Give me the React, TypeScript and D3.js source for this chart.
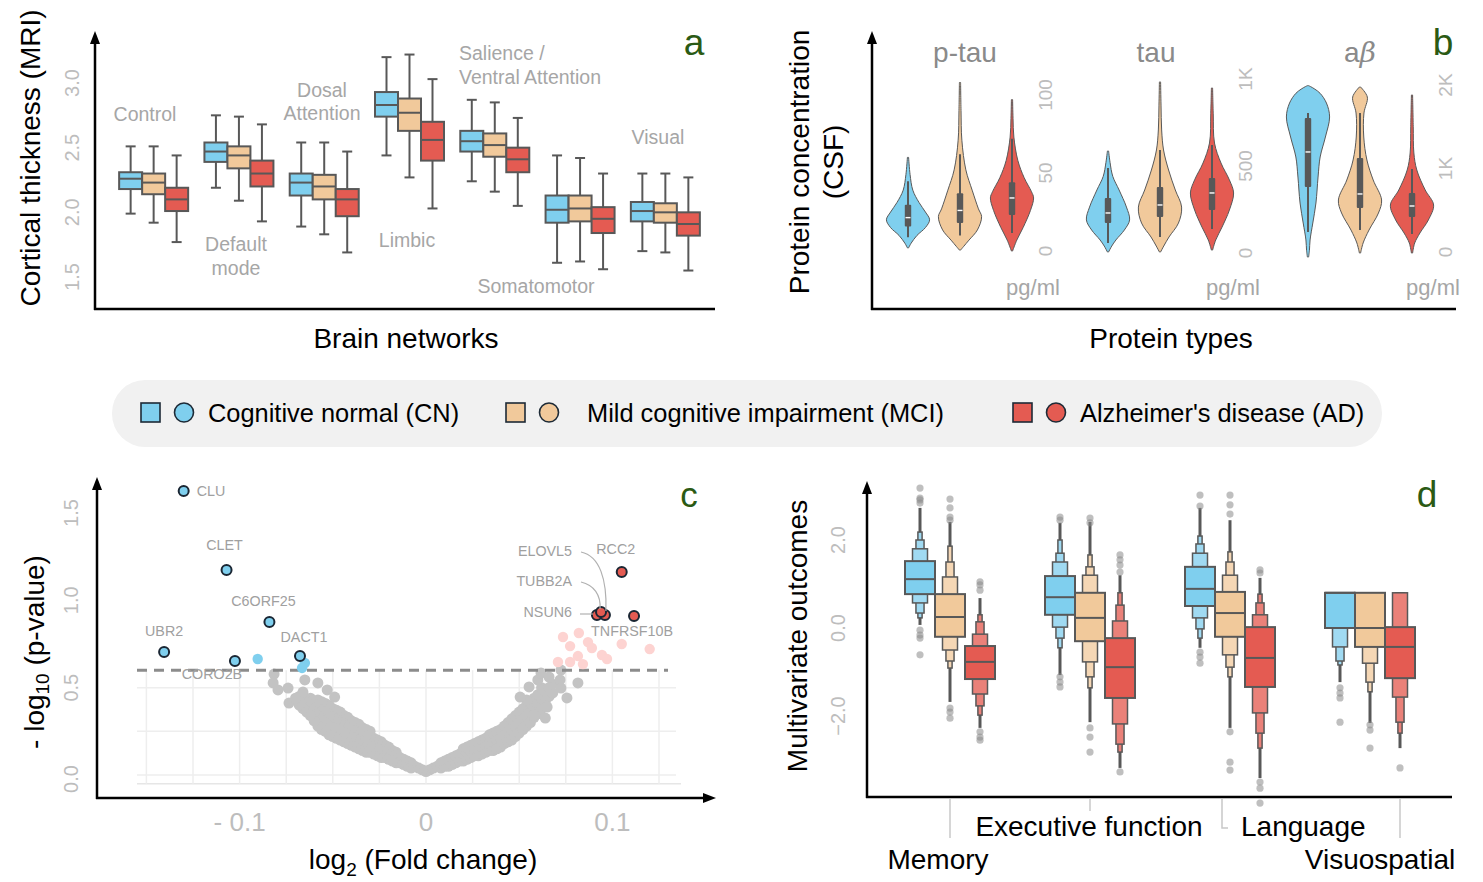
import React from "react";
import * as d3 from "d3";

const FONT = "'Liberation Sans', Arial, Helvetica, sans-serif";

// shared groups and colours
const diagnosisGroups = ["CN", "MCI", "AD"];
const legendLabels = ["Cognitive normal (CN)", "Mild cognitive impairment (MCI)", "Alzheimer's disease (AD)"];
const fillColors = ["#7fcfee", "#f1c99b", "#e45b52"];
const outerColors = ["#a0daf2", "#f5d7b5", "#ea8179"];
const EDGE = "#585858";
const TICK = "#bdbdbd";
const NOTE = "#a6a6a6";
const GREEN = "#2b5a14";

// ---- panel a : cortical thickness, [whiskerLow, q1, median, q3, whiskerHigh]
const networks = ["Control", "Default mode", "Dosal Attention", "Limbic", "Salience", "Somatomotor", "Visual"];
const thicknessCN = [
  [1.99, 2.18, 2.26, 2.31, 2.51],
  [2.19, 2.39, 2.47, 2.54, 2.75],
  [1.89, 2.13, 2.23, 2.3, 2.54],
  [2.44, 2.74, 2.83, 2.93, 3.2],
  [2.24, 2.47, 2.55, 2.63, 2.87],
  [1.61, 1.92, 2.02, 2.13, 2.44],
  [1.7, 1.93, 2.01, 2.08, 2.3],
];
const thicknessMCI = [
  [1.92, 2.14, 2.23, 2.3, 2.51],
  [2.09, 2.34, 2.44, 2.51, 2.74],
  [1.83, 2.1, 2.2, 2.29, 2.54],
  [2.27, 2.63, 2.77, 2.88, 3.22],
  [2.16, 2.43, 2.52, 2.61, 2.85],
  [1.62, 1.93, 2.03, 2.13, 2.42],
  [1.69, 1.92, 2.0, 2.07, 2.3],
];
const thicknessAD = [
  [1.77, 2.01, 2.1, 2.19, 2.44],
  [1.93, 2.2, 2.3, 2.4, 2.68],
  [1.69, 1.97, 2.1, 2.18, 2.47],
  [2.03, 2.4, 2.56, 2.7, 3.03],
  [2.05, 2.31, 2.41, 2.5, 2.73],
  [1.56, 1.84, 1.95, 2.04, 2.3],
  [1.55, 1.82, 1.91, 2.0, 2.27],
];
const thicknessTicks = [1.5, 2.0, 2.5, 3.0];

// ---- panel b : CSF proteins, violin profiles [value, relative half width]
const proteins = ["p-tau", "tau", "aβ"];
const proteinDomains = [[0, 100], [0, 1000], [0, 2000]];
const proteinTicks = [[0, 50, 100], [0, 500, 1000], [0, 1000, 2000]];
const proteinTickLabels = [["0", "50", "100"], ["0", "500", "1K"], ["0", "1K", "2K"]];
const ptauProfiles: [number, number][][] = [
  [[2, 0], [5, 0.12], [10, 0.4], [15, 0.8], [20, 1], [25, 0.8], [31, 0.5], [39, 0.2], [49, 0.07], [60, 0]],
  [[0.6, 0], [3, 0.15], [7, 0.4], [13.5, 0.8], [22, 1], [27, 0.85], [39, 0.55], [52, 0.25], [71, 0.06], [90, 0.02], [108, 0]],
  [[0, 0], [7, 0.2], [15, 0.5], [26, 0.85], [34, 1], [38, 0.9], [47, 0.55], [58, 0.25], [73, 0.06], [85, 0.02], [97, 0]],
];
const tauProfiles: [number, number][][] = [
  [[6, 0], [40, 0.15], [75, 0.35], [132, 0.75], [190, 1], [264, 0.85], [362, 0.5], [440, 0.2], [520, 0.07], [586, 0]],
  [[6, 0], [40, 0.15], [92, 0.4], [172, 0.85], [264, 1], [362, 0.7], [477, 0.38], [592, 0.14], [707, 0.05], [850, 0.02], [983, 0]],
  [[17, 0], [75, 0.15], [149, 0.45], [247, 0.8], [345, 1], [420, 0.8], [517, 0.4], [632, 0.09], [800, 0.03], [948, 0]],
];
const abetaProfiles: [number, number][][] = [
  [[-60, 0], [20, 0.04], [144, 0.07], [347, 0.2], [587, 0.35], [898, 0.45], [1138, 0.55], [1377, 0.8], [1617, 1], [1784, 0.85], [1900, 0.55], [1950, 0.3], [1980, 0.1], [1992, 0]],
  [[-12, 0], [108, 0.12], [263, 0.4], [467, 0.85], [623, 1], [862, 0.6], [1102, 0.3], [1377, 0.15], [1665, 0.16], [1856, 0.32], [1976, 0]],
  [[-12, 0], [108, 0.1], [228, 0.35], [383, 0.75], [563, 1], [743, 0.6], [982, 0.2], [1186, 0.06], [1500, 0.03], [1880, 0]],
];
// [whiskerLow, q1, median, q3, whiskerHigh]
const ptauBoxes = [[8.8, 15.7, 21.4, 29.6, 44.7], [10, 18, 26, 37, 62], [11.5, 23, 34, 44, 72]];
const tauBoxes = [[57, 172, 230, 316, 488], [92, 207, 276, 379, 592], [138, 247, 345, 431, 620]];
const abetaBoxes = [[240, 778, 1198, 1605, 1665], [263, 527, 695, 1126, 1665], [216, 419, 551, 707, 994]];

// ---- panel c : volcano plot [log2 fold change, -log10 p]
const labelledDown = [
  { gene: "CLU", fc: -0.13, p: 1.626 },
  { gene: "CLET", fc: -0.107, p: 1.173 },
  { gene: "C6ORF25", fc: -0.084, p: 0.876 },
  { gene: "UBR2", fc: -0.1405, p: 0.704 },
  { gene: "CORO2B", fc: -0.1025, p: 0.653 },
  { gene: "DACT1", fc: -0.0676, p: 0.681 },
];
const plainDown: [number, number][] = [[-0.0903, 0.664], [-0.065, 0.641], [-0.0665, 0.613]];
const labelledUp = [
  { gene: "RCC2", fc: 0.105, p: 1.162 },
  { gene: "NSUN6", fc: 0.0917, p: 0.916 },
  { gene: "ELOVL5", fc: 0.096, p: 0.916 },
  { gene: "TUBB2A", fc: 0.0939, p: 0.933 },
  { gene: "TNFRSF10B", fc: 0.1116, p: 0.91 },
];
const plainUp: [number, number][] = [
  [0.0735, 0.79], [0.082, 0.813], [0.0773, 0.738], [0.0869, 0.761], [0.089, 0.727], [0.0815, 0.681],
  [0.0944, 0.687], [0.0971, 0.664], [0.0708, 0.647], [0.0773, 0.647], [0.0842, 0.635], [0.105, 0.75], [0.12, 0.721],
];
const backgroundGenes: [number, number][] = [
  [0, 0.02], [0.002, 0.03], [-0.002, 0.03], [0.004, 0.04], [-0.004, 0.04], [0.006, 0.05], [-0.006, 0.05],
  [-0.008, 0.04], [-0.008, 0.07], [-0.01, 0.05], [-0.01, 0.08], [-0.012, 0.06], [-0.012, 0.09],
  [-0.014, 0.07], [-0.014, 0.1], [-0.016, 0.07], [-0.016, 0.11], [-0.016, 0.13], [-0.018, 0.08], [-0.018, 0.12], [-0.018, 0.14],
  [-0.02, 0.09], [-0.02, 0.13], [-0.02, 0.16], [-0.022, 0.1], [-0.022, 0.14], [-0.022, 0.17],
  [-0.024, 0.1], [-0.024, 0.14], [-0.024, 0.19], [-0.026, 0.11], [-0.026, 0.15], [-0.026, 0.2],
  [-0.028, 0.12], [-0.028, 0.16], [-0.028, 0.21], [-0.03, 0.13], [-0.03, 0.17], [-0.03, 0.22], [-0.03, 0.25],
  [-0.032, 0.13], [-0.032, 0.18], [-0.032, 0.23], [-0.032, 0.26], [-0.034, 0.14], [-0.034, 0.19], [-0.034, 0.24], [-0.034, 0.27],
  [-0.036, 0.15], [-0.036, 0.2], [-0.036, 0.25], [-0.036, 0.29], [-0.038, 0.16], [-0.038, 0.21], [-0.038, 0.26], [-0.038, 0.3],
  [-0.04, 0.17], [-0.04, 0.22], [-0.04, 0.27], [-0.04, 0.31], [-0.042, 0.18], [-0.042, 0.23], [-0.042, 0.28], [-0.042, 0.33],
  [-0.044, 0.19], [-0.044, 0.24], [-0.044, 0.29], [-0.044, 0.34], [-0.046, 0.2], [-0.046, 0.25], [-0.046, 0.31], [-0.046, 0.36],
  [-0.048, 0.21], [-0.048, 0.26], [-0.048, 0.32], [-0.048, 0.37], [-0.05, 0.22], [-0.05, 0.27], [-0.05, 0.33], [-0.05, 0.38],
  [-0.052, 0.23], [-0.052, 0.28], [-0.052, 0.34], [-0.052, 0.4], [-0.054, 0.25], [-0.054, 0.3], [-0.054, 0.36], [-0.054, 0.41],
  [-0.056, 0.26], [-0.056, 0.31], [-0.056, 0.37], [-0.056, 0.42], [-0.058, 0.28], [-0.058, 0.34], [-0.058, 0.39], [-0.058, 0.43],
  [-0.06, 0.31], [-0.06, 0.36], [-0.06, 0.41], [-0.062, 0.34], [-0.062, 0.4], [-0.062, 0.44],
  [-0.064, 0.36], [-0.064, 0.42], [-0.066, 0.38], [-0.066, 0.44], [-0.068, 0.4], [-0.068, 0.45],
  [-0.0815, 0.578], [-0.082, 0.527], [-0.0794, 0.487], [-0.074, 0.498], [-0.0735, 0.412], [-0.065, 0.544],
  [-0.066, 0.475], [-0.058, 0.527], [-0.053, 0.487], [-0.049, 0.446], [-0.07, 0.44],
  [0.008, 0.04], [0.008, 0.07], [0.01, 0.05], [0.01, 0.08], [0.012, 0.05], [0.012, 0.09], [0.014, 0.06], [0.014, 0.1],
  [0.016, 0.07], [0.016, 0.11], [0.018, 0.08], [0.018, 0.12],
  [0.02, 0.08], [0.02, 0.12], [0.02, 0.15], [0.022, 0.09], [0.022, 0.13], [0.022, 0.16],
  [0.024, 0.1], [0.024, 0.14], [0.024, 0.17], [0.026, 0.11], [0.026, 0.15], [0.026, 0.18],
  [0.028, 0.11], [0.028, 0.15], [0.028, 0.19], [0.03, 0.12], [0.03, 0.16], [0.03, 0.2],
  [0.032, 0.13], [0.032, 0.17], [0.032, 0.21], [0.034, 0.14], [0.034, 0.18], [0.034, 0.23],
  [0.036, 0.14], [0.036, 0.19], [0.036, 0.24], [0.038, 0.15], [0.038, 0.2], [0.038, 0.25],
  [0.04, 0.16], [0.04, 0.21], [0.04, 0.26], [0.042, 0.18], [0.042, 0.23], [0.042, 0.28],
  [0.044, 0.19], [0.044, 0.25], [0.044, 0.3], [0.046, 0.2], [0.046, 0.26], [0.046, 0.32],
  [0.048, 0.22], [0.048, 0.28], [0.048, 0.34], [0.05, 0.24], [0.05, 0.3], [0.05, 0.36],
  [0.052, 0.26], [0.052, 0.32], [0.052, 0.38], [0.054, 0.28], [0.054, 0.34], [0.054, 0.4],
  [0.056, 0.3], [0.056, 0.36], [0.056, 0.41], [0.058, 0.33], [0.058, 0.39], [0.058, 0.44],
  [0.06, 0.35], [0.06, 0.41], [0.06, 0.46], [0.062, 0.38], [0.062, 0.44], [0.062, 0.5],
  [0.064, 0.42], [0.064, 0.48], [0.066, 0.45], [0.066, 0.5], [0.068, 0.47], [0.068, 0.52],
  [0.0553, 0.504], [0.06, 0.544], [0.0617, 0.584], [0.066, 0.561], [0.0724, 0.601], [0.0719, 0.544],
  [0.0724, 0.498], [0.0815, 0.527], [0.0756, 0.441], [0.065, 0.389], [0.064, 0.326], [0.058, 0.343],
  [0.054, 0.429], [0.0505, 0.446],
];
const volcanoThreshold = 0.6;
const volcanoGridX = [-0.15, -0.125, -0.1, -0.075, -0.05, -0.025, 0, 0.025, 0.05, 0.075, 0.1, 0.125];
const volcanoGridY = [-0.05, 0, 0.25, 0.5];
const volcanoTicksY = [0, 0.5, 1.0, 1.5];
const volcanoTicksX = [-0.1, 0, 0.1];
const volcanoTickLabelsX = ["- 0.1", "0", "0.1"];

// ---- panel d : letter-value plots
const outcomes = ["Memory", "Executive function", "Language", "Visuospatial"];
type Boxen = { med: number; levels: [number, number][]; tails: [number, number]; outliers: number[] };
const memoryBoxen: Boxen[] = [
  { med: 1.11, levels: [[0.77, 1.52], [0.57, 1.8], [0.34, 2.0], [0.23, 2.18]], tails: [0.07, 2.73], outliers: [3.18, 2.95, 2.91, 2.84, -0.05, -0.16, -0.23, -0.61] },
  { med: 0.25, levels: [[-0.2, 0.77], [-0.5, 1.16], [-0.75, 1.5], [-0.91, 1.86]], tails: [-1.68, 2.41], outliers: [2.93, 2.73, 2.52, 2.45, -1.82, -1.91, -2.05] },
  { med: -0.77, levels: [[-1.16, -0.41], [-1.5, -0.14], [-1.77, 0.14], [-1.98, 0.3]], tails: [-2.27, 0.68], outliers: [1.05, 0.98, 0.86, -2.36, -2.48, -2.55] },
];
const executiveBoxen: Boxen[] = [
  { med: 0.7, levels: [[0.3, 1.18], [0.02, 1.5], [-0.23, 1.7], [-0.45, 2.0]], tails: [-1.07, 2.39], outliers: [2.52, 2.45, -1.11, -1.23, -1.34] },
  { med: 0.23, levels: [[-0.3, 0.8], [-0.77, 1.2], [-1.11, 1.39], [-1.36, 1.66]], tails: [-2.14, 2.41], outliers: [2.5, 2.39, -2.27, -2.48, -2.82] },
  { med: -0.89, levels: [[-1.59, -0.23], [-2.18, 0.16], [-2.64, 0.52], [-2.82, 0.8]], tails: [-3.18, 1.2], outliers: [1.66, 1.55, 1.43, 1.27, -3.27] },
];
const languageBoxen: Boxen[] = [
  { med: 0.89, levels: [[0.5, 1.39], [0.23, 1.7], [-0.02, 1.91], [-0.23, 2.09]], tails: [-0.45, 2.73], outliers: [3.02, 2.77, -0.55, -0.66, -0.8] },
  { med: 0.34, levels: [[-0.2, 0.82], [-0.61, 1.2], [-0.89, 1.5], [-1.11, 1.73]], tails: [-2.27, 2.45], outliers: [3.02, 2.8, 2.59, -2.36, -3.05, -3.23] },
  { med: -0.68, levels: [[-1.34, 0.02], [-1.93, 0.3], [-2.39, 0.57], [-2.73, 0.77]], tails: [-3.41, 1.14], outliers: [1.32, 1.25, -3.5, -3.64, -3.98] },
];
const visuospatialBoxen: Boxen[] = [
  { med: 0.8, levels: [[0.0, 0.8], [-0.43, 0.8], [-0.75, 0.8], [-0.84, 0.8]], tails: [-1.23, 0.8], outliers: [-1.36, -1.48, -1.59, -2.14] },
  { med: 0.0, levels: [[-0.43, 0.8], [-0.8, 0.8], [-1.23, 0.8], [-1.45, 0.8]], tails: [-2.16, 0.8], outliers: [-2.2, -2.32, -2.73] },
  { med: -0.43, levels: [[-1.14, 0.02], [-1.57, 0.8], [-2.14, 0.8], [-2.39, 0.8]], tails: [-2.73, 0.8], outliers: [-3.18] },
];
const outcomeTicks = [-2, 0, 2];
const levelWidths = [1, 0.5, 0.27, 0.14];

// ---------------------------------------------------------------
const TITLE = 28;
const arrowUp = (x: number, y: number) => `${x - 5},${y + 13} ${x},${y} ${x + 5},${y + 13}`;
const arrowRight = (x: number, y: number) => `${x - 13},${y - 5} ${x},${y} ${x - 13},${y + 5}`;

const RotTick = ({ x, y, text, size = 20 }: { x: number; y: number; text: string; size?: number }) => (
  <text transform={`translate(${x},${y}) rotate(-90)`} textAnchor="middle" dominantBaseline="middle" fill={TICK} fontSize={size}>
    {text}
  </text>
);

function PanelA() {
  const x = d3.scaleBand<string>().domain(networks).range([111, 708]);
  const y = d3.scaleLinear().domain([1.5, 3.0]).range([277, 83]);
  const bw = 23;
  const data = [thicknessCN, thicknessMCI, thicknessAD];
  return (
    <g>
      {networks.map((n, ni) =>
        diagnosisGroups.map((g, gi) => {
          const [lo, q1, med, q3, hi] = data[gi][ni];
          const cx = x(n)! + x.bandwidth() / 2 + (gi - 1) * bw;
          return (
            <g key={n + g} stroke={EDGE} strokeWidth={2}>
              <line x1={cx} x2={cx} y1={y(hi)} y2={y(q3)} />
              <line x1={cx} x2={cx} y1={y(q1)} y2={y(lo)} />
              <line x1={cx - 5} x2={cx + 5} y1={y(hi)} y2={y(hi)} />
              <line x1={cx - 5} x2={cx + 5} y1={y(lo)} y2={y(lo)} />
              <rect x={cx - bw / 2} y={y(q3)} width={bw} height={y(q1) - y(q3)} fill={fillColors[gi]} />
              <line x1={cx - bw / 2} x2={cx + bw / 2} y1={y(med)} y2={y(med)} />
            </g>
          );
        })
      )}
      {thicknessTicks.map((t) => (
        <RotTick key={t} x={74} y={y(t)} text={d3.format(".1f")(t)} />
      ))}
      <g fill={NOTE} fontSize={19.5} textAnchor="middle">
        <text x={145} y={121}>Control</text>
        <text x={236} y={251}>Default</text>
        <text x={236} y={275}>mode</text>
        <text x={322} y={97}>Dosal</text>
        <text x={322} y={120}>Attention</text>
        <text x={407} y={247}>Limbic</text>
        <text x={459} y={60} textAnchor="start">Salience /</text>
        <text x={459} y={84} textAnchor="start">Ventral Attention</text>
        <text x={536} y={293}>Somatomotor</text>
        <text x={658} y={144}>Visual</text>
      </g>
      <line x1={95} x2={95} y1={40} y2={310} stroke="#000" strokeWidth={2.5} />
      <polygon points={arrowUp(95, 31)} fill="#000" />
      <line x1={94} x2={715} y1={309} y2={309} stroke="#000" strokeWidth={2.5} />
      <text transform="translate(33,158) rotate(-90)" textAnchor="middle" dominantBaseline="middle" fontSize={TITLE}>
        Cortical thickness (MRI)
      </text>
      <text x={406} y={348} textAnchor="middle" fontSize={TITLE}>Brain networks</text>
      <text x={694} y={55} textAnchor="middle" fontSize={37} fill={GREEN}>a</text>
    </g>
  );
}

function PanelB() {
  const x = d3.scaleBand<string>().domain(proteins).range([860, 1460]);
  const ranges = [[251, 95], [253, 79], [252, 85]];
  const profiles = [ptauProfiles, tauProfiles, abetaProfiles];
  const boxes = [ptauBoxes, tauBoxes, abetaBoxes];
  const halfW = 21;
  return (
    <g>
      {proteins.map((p, pi) => {
        const y = d3.scaleLinear().domain(proteinDomains[pi]).range(ranges[pi]);
        const c = x(p)! + x.bandwidth() / 2;
        return (
          <g key={p}>
            {diagnosisGroups.map((g, gi) => {
              const cx = c + (gi - 1) * 52;
              const area = d3
                .area<[number, number]>()
                .y((d) => y(d[0]))
                .x0((d) => cx - d[1] * halfW - 0.6)
                .x1((d) => cx + d[1] * halfW + 0.6)
                .curve(d3.curveCatmullRom.alpha(0.5));
              const [lo, q1, med, q3, hi] = boxes[pi][gi];
              return (
                <g key={g}>
                  <path d={area(profiles[pi][gi]) || ""} fill={fillColors[gi]} stroke={EDGE} strokeWidth={1} />
                  <line x1={cx} x2={cx} y1={y(hi)} y2={y(lo)} stroke={EDGE} strokeWidth={2} />
                  <rect x={cx - 3.2} y={y(q3)} width={6.4} height={y(q1) - y(q3)} fill={EDGE} rx={1} />
                  <line x1={cx - 2.5} x2={cx + 2.5} y1={y(med)} y2={y(med)} stroke="#fff" strokeWidth={1.4} />
                </g>
              );
            })}
            {proteinTicks[pi].map((t, ti) => (
              <RotTick key={t} x={c + 87} y={y(t)} text={proteinTickLabels[pi][ti]} size={19} />
            ))}
            <text x={c + 73} y={295} textAnchor="middle" fontSize={22} fill={NOTE}>pg/ml</text>
            <text x={c + (pi === 2 ? 0 : pi === 1 ? -4 : 5)} y={62} textAnchor="middle" fontSize={28} fill="#8a8a8a">
              {pi === 2 ? (
                <>
                  <tspan>a</tspan>
                  <tspan fontStyle="italic" fontFamily="'DejaVu Serif', serif">β</tspan>
                </>
              ) : (
                p
              )}
            </text>
          </g>
        );
      })}
      <line x1={872} x2={872} y1={40} y2={310} stroke="#000" strokeWidth={2.5} />
      <polygon points={arrowUp(872, 31)} fill="#000" />
      <line x1={871} x2={1456} y1={309} y2={309} stroke="#000" strokeWidth={2.5} />
      <text transform="translate(802,162) rotate(-90)" textAnchor="middle" dominantBaseline="middle" fontSize={TITLE}>
        Protein concentration
      </text>
      <text transform="translate(836,162) rotate(-90)" textAnchor="middle" dominantBaseline="middle" fontSize={TITLE}>
        (CSF)
      </text>
      <text x={1171} y={348} textAnchor="middle" fontSize={TITLE}>Protein types</text>
      <text x={1443} y={55} textAnchor="middle" fontSize={37} fill={GREEN}>b</text>
    </g>
  );
}

function Legend() {
  const squareX = [141, 506, 1013];
  return (
    <g>
      <rect x={112} y={380} width={1270} height={67} rx={33} fill="#f1f1f1" />
      {legendLabels.map((l, i) => (
        <g key={l}>
          <rect x={squareX[i]} y={403} width={19} height={19} fill={fillColors[i]} stroke="#1d2a36" strokeWidth={1.6} />
          <circle cx={squareX[i] + 43} cy={412.5} r={9.5} fill={fillColors[i]} stroke="#1d2a36" strokeWidth={1.6} />
          <text x={squareX[i] + (i === 1 ? 81 : 67)} y={422} fontSize={25.4}>{l}</text>
        </g>
      ))}
    </g>
  );
}

function PanelC() {
  const x = d3.scaleLinear().domain([-0.15, 0.125]).range([146.4, 659]);
  const y = d3.scaleLinear().domain([0, 1.5]).range([775, 513]);
  const gridTop = y(volcanoThreshold);
  const up = Object.fromEntries(labelledUp.map((d) => [d.gene, [x(d.fc), y(d.p)]]));
  const outline = "#1a2633";
  return (
    <g>
      {volcanoGridY.map((v) => (
        <line key={v} x1={137} x2={v < 0 ? 681 : 676} y1={y(v)} y2={y(v)} stroke={v < 0 ? "#e6e6e6" : "#eeeeee"} strokeWidth={1.5} />
      ))}
      {volcanoGridX.map((v) => (
        <line key={v} x1={x(v)} x2={x(v)} y1={gridTop} y2={y(-0.05)} stroke="#eeeeee" strokeWidth={1.5} />
      ))}
      {backgroundGenes.map((d, i) => (
        <circle key={i} cx={x(d[0])} cy={y(d[1])} r={5.5} fill="#c3c3c3" />
      ))}
      <line x1={137} x2={668} y1={gridTop} y2={gridTop} stroke="#8c8c8c" strokeWidth={3} strokeDasharray="10 7" />
      {plainUp.map((d, i) => (
        <circle key={i} cx={x(d[0])} cy={y(d[1])} r={5.2} fill="#fdd3d1" />
      ))}
      {plainDown.map((d, i) => (
        <circle key={i} cx={x(d[0])} cy={y(d[1])} r={5.2} fill="#7fcfee" />
      ))}
      {labelledDown.map((d) => (
        <circle key={d.gene} cx={x(d.fc)} cy={y(d.p)} r={5} fill="#7fcfee" stroke={outline} strokeWidth={2} />
      ))}
      {["NSUN6", "ELOVL5", "TUBB2A", "RCC2", "TNFRSF10B"].map((g) => (
        <circle key={g} cx={up[g][0]} cy={up[g][1]} r={5} fill="#e45b52" stroke={outline} strokeWidth={2} />
      ))}
      <g fill="#a0a0a0" fontSize={14.3}>
        {labelledDown.map((d) => {
          const px = x(d.fc);
          const py = y(d.p);
          const off: Record<string, [number, number, string]> = {
            CLU: [13, 5, "start"],
            CLET: [-2, -20, "middle"],
            C6ORF25: [-6, -16, "middle"],
            UBR2: [0, -16, "middle"],
            CORO2B: [-23, 18, "middle"],
            DACT1: [4, -14, "middle"],
          };
          const [dx, dy, anchor] = off[d.gene];
          return (
            <text key={d.gene} x={px + dx} y={py + dy} textAnchor={anchor as any}>
              {d.gene}
            </text>
          );
        })}
        <text x={572} y={556} textAnchor="end">ELOVL5</text>
        <text x={572} y={586} textAnchor="end">TUBB2A</text>
        <text x={572} y={617} textAnchor="end">NSUN6</text>
        <text x={up.RCC2[0] - 6} y={up.RCC2[1] - 18} textAnchor="middle">RCC2</text>
        <text x={up.TNFRSF10B[0] - 2} y={up.TNFRSF10B[1] + 20} textAnchor="middle">TNFRSF10B</text>
      </g>
      <g fill="none" stroke="#b0b0b0" strokeWidth={1.2}>
        <path d={`M 581 552 C 600 556, ${up.ELOVL5[0] + 2} 580, ${up.ELOVL5[0] + 1} ${up.ELOVL5[1] - 4}`} />
        <path d={`M 581 582 C 594 585, ${up.TUBB2A[0]} 595, ${up.TUBB2A[0] - 1} ${up.TUBB2A[1] - 3}`} />
        <path d={`M 580 614 L ${up.NSUN6[0] - 4} 614`} />
      </g>
      {volcanoTicksY.map((t) => (
        <RotTick key={t} x={73} y={y(t) + (t === 0 ? 4 : 0)} text={d3.format(".1f")(t)} />
      ))}
      {volcanoTicksX.map((t, i) => (
        <text key={t} x={x(t)} y={831} textAnchor="middle" fontSize={26} fill={TICK}>
          {volcanoTickLabelsX[i]}
        </text>
      ))}
      <line x1={97} x2={97} y1={486} y2={799} stroke="#000" strokeWidth={2.5} />
      <polygon points={arrowUp(97, 477)} fill="#000" />
      <line x1={96} x2={706} y1={798} y2={798} stroke="#000" strokeWidth={2.5} />
      <polygon points={arrowRight(716, 798)} fill="#000" />
      <text transform="translate(37,652) rotate(-90)" textAnchor="middle" dominantBaseline="middle" fontSize={TITLE}>
        <tspan>- log</tspan>
        <tspan fontSize={19} dy={7}>10</tspan>
        <tspan dy={-7}> (p-value)</tspan>
      </text>
      <text x={423} y={869} textAnchor="middle" fontSize={TITLE}>
        <tspan>log</tspan>
        <tspan fontSize={19} dy={7}>2</tspan>
        <tspan dy={-7}> (Fold change)</tspan>
      </text>
      <text x={689} y={507} textAnchor="middle" fontSize={35} fill={GREEN}>c</text>
    </g>
  );
}

function PanelD() {
  const x = d3.scaleBand<string>().domain(outcomes).range([880, 1440]);
  const y = d3.scaleLinear().domain([-2, 2]).range([716, 540]);
  const all = [memoryBoxen, executiveBoxen, languageBoxen, visuospatialBoxen];
  const bw = 30;
  return (
    <g>
      {outcomes.map((o, oi) => {
        const c = x(o)! + x.bandwidth() / 2;
        return (
          <g key={o}>
            {all[oi].map((b, gi) => {
              const cx = c + (gi - 1) * bw;
              return (
                <g key={gi}>
                  <line x1={cx} x2={cx} y1={y(b.tails[0])} y2={y(b.tails[1])} stroke={EDGE} strokeWidth={3} />
                  {b.outliers.map((v, k) => (
                    <circle key={k} cx={cx} cy={y(v)} r={3.6} fill="#8a8a8a" opacity={0.55} />
                  ))}
                  {b.levels
                    .map((lv, li) => ({ lv, li }))
                    .reverse()
                    .map(({ lv, li }) => {
                      const w = bw * levelWidths[li];
                      return (
                        <rect
                          key={li}
                          x={cx - w / 2}
                          y={y(lv[1])}
                          width={w}
                          height={y(lv[0]) - y(lv[1])}
                          fill={li === 0 ? fillColors[gi] : outerColors[gi]}
                          stroke={EDGE}
                          strokeWidth={li === 0 ? 2 : 1.5}
                        />
                      );
                    })}
                  <line x1={cx - bw / 2} x2={cx + bw / 2} y1={y(b.med)} y2={y(b.med)} stroke={EDGE} strokeWidth={2} />
                </g>
              );
            })}
          </g>
        );
      })}
      {outcomeTicks.map((t) => (
        <RotTick key={t} x={840} y={y(t)} text={d3.format(".1f")(t)} />
      ))}
      <g stroke="#c8c8c8" strokeWidth={1.5} fill="none">
        <line x1={x("Memory")! + 70} x2={x("Memory")! + 70} y1={799} y2={838} />
        <line x1={x("Executive function")! + 70} x2={x("Executive function")! + 70} y1={799} y2={811} />
        <path d={`M ${x("Language")! + 62} 799 V 828 H ${x("Language")! + 68}`} />
        <line x1={x("Visuospatial")! + 100} x2={x("Visuospatial")! + 100} y1={799} y2={838} />
      </g>
      <g fontSize={TITLE}>
        <text x={938} y={869} textAnchor="middle">Memory</text>
        <text x={1089} y={836} textAnchor="middle">Executive function</text>
        <text x={1241} y={836}>Language</text>
        <text x={1380} y={869} textAnchor="middle">Visuospatial</text>
      </g>
      <line x1={867} x2={867} y1={490} y2={798} stroke="#000" strokeWidth={2.5} />
      <polygon points={arrowUp(867, 481)} fill="#000" />
      <line x1={866} x2={1452} y1={797} y2={797} stroke="#000" strokeWidth={2.5} />
      <text transform="translate(800,636) rotate(-90)" textAnchor="middle" dominantBaseline="middle" fontSize={TITLE}>
        Multivariate outcomes
      </text>
      <text x={1427} y={507} textAnchor="middle" fontSize={37} fill={GREEN}>d</text>
    </g>
  );
}

export default function App() {
  return (
    <div style={{ width: 1483, height: 882, position: "absolute", left: 0, top: 0, background: "#fff" }}>
      <svg width={1483} height={882} fontFamily={FONT} style={{ display: "block" }}>
        <rect width={1483} height={882} fill="#fff" />
        <PanelA />
        <PanelB />
        <Legend />
        <PanelC />
        <PanelD />
      </svg>
    </div>
  );
}
